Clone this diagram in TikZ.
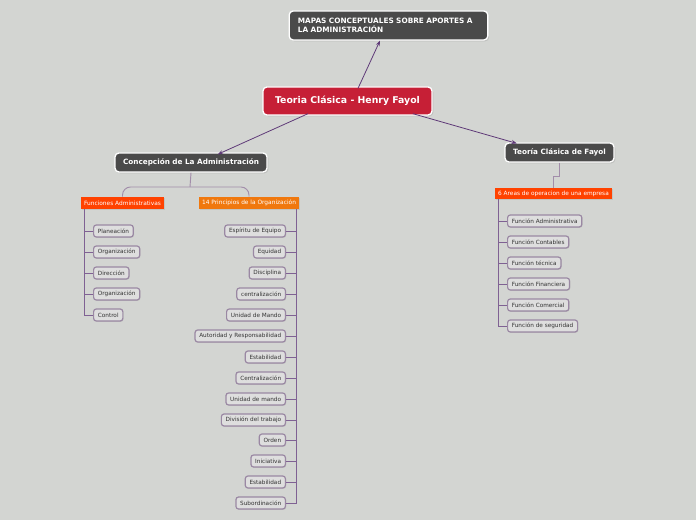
\documentclass[tikz,border=0pt]{standalone}
\usepackage{fontspec}
\setmainfont{DejaVu Sans}
\usetikzlibrary{arrows.meta,shadows}

\definecolor{bgcol}{HTML}{D3D5D2}
\definecolor{darkbox}{HTML}{4A4A4A}
\definecolor{crimson}{HTML}{C61F36}
\definecolor{redorange}{HTML}{FF4200}
\definecolor{orange2}{HTML}{F0780E}
\definecolor{leaffill}{HTML}{DEDEDE}
\definecolor{leafline}{HTML}{9A88A3}
\definecolor{linkcol}{HTML}{5F3A78}
\definecolor{softcol}{HTML}{A28DAA}

\tikzset{
	topic/.style={draw=white, line width=1pt, rounded corners=3pt, text=white,
		font=\bfseries\fontsize{5.45}{6.8}\selectfont, drop shadow={opacity=0.25, shadow xshift=1pt, shadow yshift=-1pt}},
	subtopic/.style={text=white, inner sep=1pt, font=\fontsize{4.4}{5}\selectfont,
		drop shadow={opacity=0.2, shadow xshift=0.7pt, shadow yshift=-0.7pt}},
	leaf/.style={draw=leafline, fill=leaffill, line width=0.9pt, rounded corners=2pt,
		inner xsep=3.2pt, inner ysep=0pt, minimum height=9pt, text=black!80,
		font=\fontsize{4.3}{5}\selectfont, drop shadow={opacity=0.2, shadow xshift=0.6pt, shadow yshift=-0.6pt}},
	link/.style={draw=linkcol, line width=0.6pt, -{Stealth[length=4pt,width=3pt]}},
	soft/.style={draw=softcol, line width=0.7pt},
	branch/.style={draw=linkcol!80, line width=0.7pt}
}

\begin{document}
\begin{tikzpicture}[x=0.75pt,y=0.75pt,yscale=-1,xscale=1]
	\fill[bgcol] (0,0) rectangle (696,520);
	\useasboundingbox (0,0) rectangle (696,520);
	
	% main topics
	\node[topic, fill=darkbox, minimum width=149pt, minimum height=21.75pt, text width=136pt, align=left, font=\bfseries\fontsize{5.5}{6.8}\selectfont] (map) at (388.5,25.5) {MAPAS CONCEPTUALES SOBRE APORTES A\\LA ADMINISTRACIÓN};
	\node[topic, fill=crimson, minimum width=126.75pt, minimum height=21pt, font=\bfseries\fontsize{7}{8}\selectfont] (hf) at (347.5,101) {Teoria Clásica - Henry Fayol};
	\node[topic, fill=darkbox, minimum width=114pt, minimum height=14.25pt] (co) at (191,162.5) {Concepción de La Administración};
	\node[topic, fill=darkbox, minimum width=81.75pt, minimum height=14.25pt] (tf) at (559.5,152.5) {Teoría Clásica de Fayol};
	
	% arrows from the main topic
	\draw[link] ([xshift=7.9pt,yshift=1.5pt]hf.north) -- ([xshift=-6.4pt]map.south);
	\draw[link] ([xshift=-29.6pt,yshift=-1.5pt]hf.south) -- ([xshift=20pt,yshift=1.5pt]co.north);
	\draw[link] ([xshift=49pt,yshift=-1.5pt]hf.south) -- ([xshift=-32pt,yshift=0.8pt]tf.north);
	
	% sub topics
	\node[subtopic, fill=redorange, minimum width=62.25pt, minimum height=9pt] (fa) at (122.5,203) {Funciones Administrativas};
	\node[subtopic, fill=orange2, minimum width=75pt, minimum height=9pt] (pr) at (249,203) {14 Principios de la Organización};
	\node[subtopic, fill=redorange, minimum width=87.75pt, minimum height=8.25pt, font=\fontsize{4.35}{5}\selectfont] (ar) at (553.5,193.5) {6 Areas de operacion de una empresa};
	
	\coordinate (cj) at (190,187);
	\draw[soft] (co.south) -- (cj);
	\draw[soft, rounded corners=6pt] (fa.north) |- (cj) -| (pr.north);
	\draw[soft] (tf.south) -- ++(0,14) -| (ar.north);
	
	% Funciones Administrativas
	\node[leaf, anchor=west] (fa1) at (93,231) {Planeación};
	\node[leaf, anchor=west] (fa2) at (93,252) {Organización};
	\node[leaf, anchor=west] (fa3) at (93,273) {Dirección};
	\node[leaf, anchor=west] (fa4) at (93,294) {Organización};
	\node[leaf, anchor=west] (fa5) at (93,315) {Control};
	\draw[branch] ([xshift=3pt]fa.south west) |- (fa1.west);
	\draw[branch] ([xshift=3pt]fa.south west) |- (fa2.west);
	\draw[branch] ([xshift=3pt]fa.south west) |- (fa3.west);
	\draw[branch] ([xshift=3pt]fa.south west) |- (fa4.west);
	\draw[branch] ([xshift=3pt]fa.south west) |- (fa5.west);
	
	% 14 Principios
	\node[leaf, anchor=east] (pr1) at (286,231) {Espíritu de Equipo};
	\node[leaf, anchor=east] (pr2) at (286,252) {Equidad};
	\node[leaf, anchor=east] (pr3) at (286,273) {Disciplina};
	\node[leaf, anchor=east] (pr4) at (286,294) {centralización};
	\node[leaf, anchor=east] (pr5) at (286,315) {Unidad de Mando};
	\node[leaf, anchor=east] (pr6) at (286,336) {Autoridad y Responsabilidad};
	\node[leaf, anchor=east] (pr7) at (286,357) {Estabilidad};
	\node[leaf, anchor=east] (pr8) at (286,378) {Centralización};
	\node[leaf, anchor=east] (pr9) at (286,399) {Unidad de mando};
	\node[leaf, anchor=east] (pr10) at (286,420) {División del trabajo};
	\node[leaf, anchor=east] (pr11) at (286,440) {Orden};
	\node[leaf, anchor=east] (pr12) at (286,461) {Iniciativa};
	\node[leaf, anchor=east] (pr13) at (286,482) {Estabilidad};
	\node[leaf, anchor=east] (pr14) at (286,503) {Subordinación};
	\draw[branch] ([xshift=-2.25pt]pr.south east) |- (pr1.east);
	\draw[branch] ([xshift=-2.25pt]pr.south east) |- (pr2.east);
	\draw[branch] ([xshift=-2.25pt]pr.south east) |- (pr3.east);
	\draw[branch] ([xshift=-2.25pt]pr.south east) |- (pr4.east);
	\draw[branch] ([xshift=-2.25pt]pr.south east) |- (pr5.east);
	\draw[branch] ([xshift=-2.25pt]pr.south east) |- (pr6.east);
	\draw[branch] ([xshift=-2.25pt]pr.south east) |- (pr7.east);
	\draw[branch] ([xshift=-2.25pt]pr.south east) |- (pr8.east);
	\draw[branch] ([xshift=-2.25pt]pr.south east) |- (pr9.east);
	\draw[branch] ([xshift=-2.25pt]pr.south east) |- (pr10.east);
	\draw[branch] ([xshift=-2.25pt]pr.south east) |- (pr11.east);
	\draw[branch] ([xshift=-2.25pt]pr.south east) |- (pr12.east);
	\draw[branch] ([xshift=-2.25pt]pr.south east) |- (pr13.east);
	\draw[branch] ([xshift=-2.25pt]pr.south east) |- (pr14.east);
	
	% 6 Areas
	\node[leaf, anchor=west] (ar1) at (507,221) {Función Administrativa};
	\node[leaf, anchor=west] (ar2) at (507,242) {Función Contables};
	\node[leaf, anchor=west] (ar3) at (507,263) {Función técnica};
	\node[leaf, anchor=west] (ar4) at (507,284) {Función Financiera};
	\node[leaf, anchor=west] (ar5) at (507,305) {Función Comercial};
	\node[leaf, anchor=west] (ar6) at (507,326) {Función de seguridad};
	\draw[branch] ([xshift=3pt]ar.south west) |- (ar1.west);
	\draw[branch] ([xshift=3pt]ar.south west) |- (ar2.west);
	\draw[branch] ([xshift=3pt]ar.south west) |- (ar3.west);
	\draw[branch] ([xshift=3pt]ar.south west) |- (ar4.west);
	\draw[branch] ([xshift=3pt]ar.south west) |- (ar5.west);
	\draw[branch] ([xshift=3pt]ar.south west) |- (ar6.west);
\end{tikzpicture}
\end{document}
